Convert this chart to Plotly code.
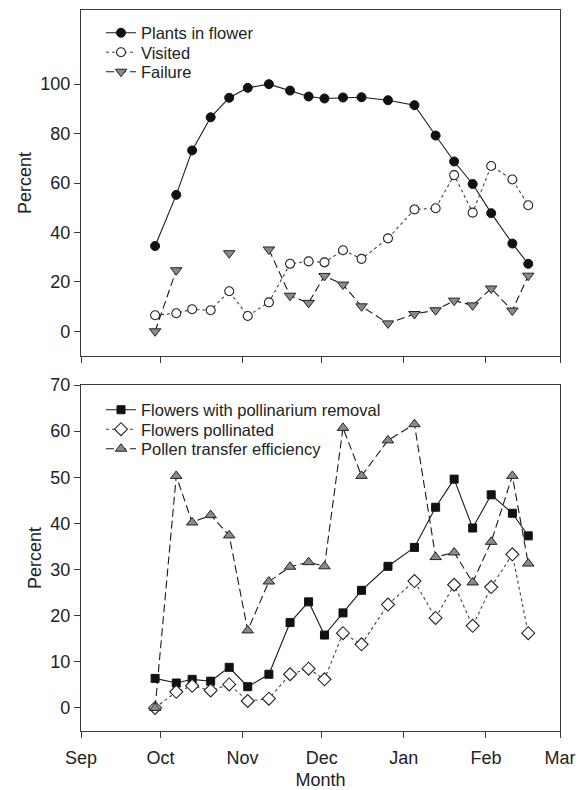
import plotly.graph_objects as go

dates = ["2009-09-29", "2009-10-07", "2009-10-13", "2009-10-20", "2009-10-27",
         "2009-11-03", "2009-11-11", "2009-11-19", "2009-11-26", "2009-12-02",
         "2009-12-09", "2009-12-16", "2009-12-26", "2010-01-05", "2010-01-13",
         "2010-01-20", "2010-01-27", "2010-02-03", "2010-02-11", "2010-02-17"]

plants_in_flower = [34.5, 55.2, 73.2, 86.6, 94.5, 98.5, 100.0, 97.4, 95.0, 94.2,
                    94.6, 94.7, 93.5, 91.5, 79.2, 68.7, 59.6, 47.8, 35.5, 27.3]
visited = [6.5, 7.3, 8.9, 8.5, 16.2, 6.2, 11.7, 27.3, 28.3, 27.9,
           32.8, 29.3, 37.6, 49.3, 49.8, 63.2, 48.0, 66.9, 61.4, 51.0]
failure = [0.0, 24.7, None, None, 31.6, None, 33.1, 14.4, 11.5, 22.4,
           18.9, 10.1, 3.2, 7.0, 8.5, 12.4, 10.5, 17.3, 8.4, 22.5]

removal = [6.4, 5.4, 6.2, 5.8, 8.8, 4.6, 7.3, 18.5, 23.0, 15.8,
           20.6, 25.5, 30.7, 34.8, 43.5, 49.6, 39.0, 46.2, 42.2, 37.3]
pollinated = [0.0, 3.5, 4.8, 3.8, 5.1, 1.5, 2.0, 7.3, 8.5, 6.2,
              16.2, 13.8, 22.4, 27.5, 19.5, 26.7, 17.8, 26.2, 33.3, 16.2]
efficiency = [0.0, 50.3, 40.2, 41.8, 37.4, 16.8, 27.4, 30.6, 31.6, 30.7,
              60.7, 50.3, 58.0, 61.5, 32.7, 33.7, 27.2, 36.0, 50.3, 31.3]

month_ticks = ["2009-09-01", "2009-10-01", "2009-11-01", "2009-12-01",
               "2010-01-01", "2010-02-01", "2010-03-01"]
month_labels = ["Sep", "Oct", "Nov", "Dec", "Jan", "Feb", "Mar"]

FONT = "Liberation Sans, Arial, sans-serif"
LINE = "#1a1a1a"
GRAY = "#8a8a8a"
AX = "#3a3a3a"
TXT = "#222222"

fig = go.Figure()

# Top panel
fig.add_trace(go.Scatter(x=dates, y=plants_in_flower, name="Plants in flower",
                         mode="lines+markers", xaxis="x", yaxis="y", legend="legend",
                         line=dict(color=LINE, width=1.1),
                         marker=dict(symbol="circle", size=9, color="#111111",
                                     line=dict(color="#111111", width=1))))
fig.add_trace(go.Scatter(x=dates, y=visited, name="Visited",
                         mode="lines+markers", xaxis="x", yaxis="y", legend="legend2",
                         line=dict(color="#444444", width=1.1, dash="dot"),
                         marker=dict(symbol="circle", size=9, color="white",
                                     line=dict(color="#222222", width=1.1))))
fig.add_trace(go.Scatter(x=dates, y=failure, name="Failure",
                         mode="lines+markers", xaxis="x", yaxis="y", legend="legend3",
                         connectgaps=False,
                         line=dict(color=LINE, width=1.1, dash="8px,4px"),
                         marker=dict(symbol="triangle-down", size=10, color=GRAY,
                                     line=dict(color="#222222", width=1))))

# Bottom panel
fig.add_trace(go.Scatter(x=dates, y=removal, name="Flowers with pollinarium removal",
                         mode="lines+markers", xaxis="x2", yaxis="y2", legend="legend4",
                         line=dict(color=LINE, width=1.1),
                         marker=dict(symbol="square", size=8, color="#111111",
                                     line=dict(color="#111111", width=1))))
fig.add_trace(go.Scatter(x=dates, y=pollinated, name="Flowers pollinated",
                         mode="lines+markers", xaxis="x2", yaxis="y2", legend="legend5",
                         line=dict(color="#444444", width=1.1, dash="dot"),
                         marker=dict(symbol="diamond", size=10, color="white",
                                     line=dict(color="#222222", width=1.1))))
fig.add_trace(go.Scatter(x=dates, y=efficiency, name="Pollen transfer efficiency",
                         mode="lines+markers", xaxis="x2", yaxis="y2", legend="legend6",
                         line=dict(color=LINE, width=1.1, dash="8px,4px"),
                         marker=dict(symbol="triangle-up", size=10, color=GRAY,
                                     line=dict(color="#222222", width=1))))

W, H = 585, 790
x0, x1 = 81 / W, 560 / W
top_dom = [1 - 356 / H, 1 - 10 / H]
bot_dom = [1 - 731 / H, 1 - 385 / H]

common_x = dict(type="date", range=[month_ticks[0], month_ticks[-1]],
                tickmode="array", tickvals=month_ticks, ticktext=month_labels,
                showline=True, linecolor=AX, linewidth=1.2, mirror=True,
                ticks="outside", ticklen=6, tickwidth=1.2, tickcolor=AX,
                showgrid=False, zeroline=False, domain=[x0, x1], automargin=False,
                tickfont=dict(family=FONT, size=18, color=TXT))
common_y = dict(showline=True, linecolor=AX, linewidth=1.2, mirror=True,
                ticks="outside", ticklen=6, tickwidth=1.2, tickcolor=AX,
                showgrid=False, zeroline=False, automargin=False,
                tickfont=dict(family=FONT, size=18, color=TXT),
                title=dict(text="Percent", font=dict(family=FONT, size=18, color=TXT),
                           standoff=3))

legend_font = dict(family=FONT, size=16.5, color=TXT)
def leg(ypix):
    return dict(x=101 / W, y=1 - ypix / H, xanchor="left", yanchor="middle",
                bgcolor="rgba(0,0,0,0)", borderwidth=0, font=legend_font)

fig.update_layout(
    width=W, height=H,
    margin=dict(l=0, r=0, t=0, b=0, autoexpand=False),
    paper_bgcolor="white", plot_bgcolor="white",
    font=dict(family=FONT, size=18, color=TXT),
    xaxis=dict(common_x, anchor="y", showticklabels=False),
    yaxis=dict(common_y, anchor="x", domain=top_dom, range=[-10, 130],
               tickvals=[0, 20, 40, 60, 80, 100]),
    xaxis2=dict(common_x, anchor="y2", matches="x", ticklabelstandoff=4,
                title=dict(text="Month", font=dict(family=FONT, size=18, color=TXT),
                           standoff=12)),
    yaxis2=dict(common_y, anchor="x2", domain=bot_dom, range=[-5, 70],
                tickvals=[0, 10, 20, 30, 40, 50, 60, 70]),
    legend=leg(33), legend2=leg(52.5), legend3=leg(72),
    legend4=leg(410), legend5=leg(429.5), legend6=leg(449),
    showlegend=True,
)

fig.write_html("out.html")
